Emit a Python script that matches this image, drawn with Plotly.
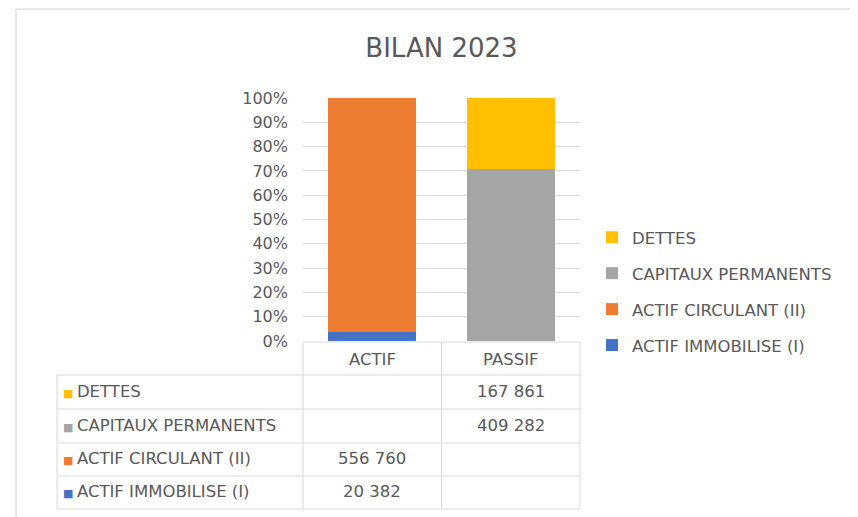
import plotly.graph_objects as go

categories = ["ACTIF", "PASSIF"]
series_names = ["ACTIF IMMOBILISE (I)", "ACTIF CIRCULANT (II)", "CAPITAUX PERMANENTS", "DETTES"]
actif_immobilise = [20382, None]
actif_circulant = [556760, None]
capitaux_permanents = [None, 409282]
dettes = [None, 167861]
y_tick_labels = [f"{v}%" for v in range(0, 101, 10)]
title_text = "BILAN 2023"

series_values = [actif_immobilise, actif_circulant, capitaux_permanents, dettes]
colors = ["#4472C4", "#ED7D31", "#A5A5A5", "#FFC000"]

W, H = 858, 517
S = 8  # page body offset
L, T = 303 - S, 98 - S
R, B = W - (580 - S), H - (341 - S)
PW, PH = W - L - R, H - T - B
FONT = "DejaVu Sans"
GRAY = "#595959"
LINE = "#d9d9d9"
FS = 16.5

def px(x):
    return (x - S - L) / PW

def py(y):
    return (H - B - (y - S)) / PH

fig = go.Figure()
n = len(series_names)
for i, (name, vals, col) in enumerate(zip(series_names, series_values, colors)):
    fig.add_trace(go.Bar(
        x=categories, y=vals, name=name, marker=dict(color=col, line=dict(width=0)),
        legendgroup=name, legendrank=n - i,
    ))

shapes = []
shapes.append(dict(type="rect", xref="paper", yref="paper", x0=px(16), x1=px(880), y0=py(540), y1=py(9),
                   line=dict(color="#d0d0d0", width=1), layer="below"))

def hline(y, x0, x1):
    shapes.append(dict(type="line", xref="paper", yref="paper", x0=px(x0), x1=px(x1), y0=py(y), y1=py(y),
                       line=dict(color=LINE, width=1)))

def vline(x, y0, y1):
    shapes.append(dict(type="line", xref="paper", yref="paper", x0=px(x), x1=px(x), y0=py(y0), y1=py(y1),
                       line=dict(color=LINE, width=1)))

header_top, header_bot = 342, 375
row_edges = [375, 409, 443, 476, 509]
table_left, table_right, col_div = 57, 580, 441.5
hline(header_top, 303, table_right)
for y in row_edges:
    hline(y, table_left, table_right)
vline(table_left, header_bot, row_edges[-1])
vline(303, header_top, row_edges[-1])
vline(col_div, header_top, row_edges[-1])
vline(table_right, header_top, row_edges[-1])

annotations = []
for c in categories:
    annotations.append(dict(x=c, xref="x", y=py((header_top + header_bot) / 2 + 1), yref="paper",
                            xanchor="center", yanchor="middle",
                            text=c, showarrow=False, font=dict(family=FONT, size=FS, color=GRAY)))
order = list(range(n))[::-1]
for r, idx in enumerate(order):
    yc = py((row_edges[r] + row_edges[r + 1]) / 2 - 1)
    annotations.append(dict(x=px(61), xref="paper", y=yc, yref="paper", xanchor="left", yanchor="middle",
                            text=f'<span style="color:{colors[idx]};font-size:11px">■ </span>{series_names[idx]}',
                            showarrow=False, font=dict(family=FONT, size=FS, color=GRAY)))
    for ci, c in enumerate(categories):
        v = series_values[idx][ci]
        if v is not None:
            annotations.append(dict(x=c, xref="x", y=yc, yref="paper", xanchor="center", yanchor="middle",
                                    text=f"{v:,}".replace(",", " "), showarrow=False,
                                    font=dict(family=FONT, size=FS, color=GRAY)))

fig.update_layout(
    width=W, height=H,
    margin=dict(l=L, r=R, t=T, b=B, autoexpand=False),
    paper_bgcolor="white", plot_bgcolor="white",
    barmode="stack", barnorm="percent", bargap=0.365,
    title=dict(text=title_text, x=0.5, xref="paper", y=1 - (48 - S) / H, yref="container",
               xanchor="center", yanchor="middle", font=dict(family=FONT, size=26, color=GRAY)),
    xaxis=dict(showticklabels=False, showgrid=False, zeroline=False, showline=False, ticks=""),
    yaxis=dict(range=[0, 100], tickvals=list(range(0, 101, 10)), ticktext=y_tick_labels,
               showgrid=True, gridcolor=LINE, gridwidth=1, zeroline=False, showline=False,
               ticks="", ticklabelstandoff=14, tickfont=dict(family=FONT, size=16, color=GRAY)),
    legend=dict(x=px(592), xanchor="left", y=py(220), yanchor="top", traceorder="grouped",
                tracegroupgap=11.5, font=dict(family=FONT, size=FS, color=GRAY), itemwidth=30,
                bgcolor="rgba(0,0,0,0)"),
    shapes=shapes, annotations=annotations,
    showlegend=True,
)
fig.write_html("out.html")
